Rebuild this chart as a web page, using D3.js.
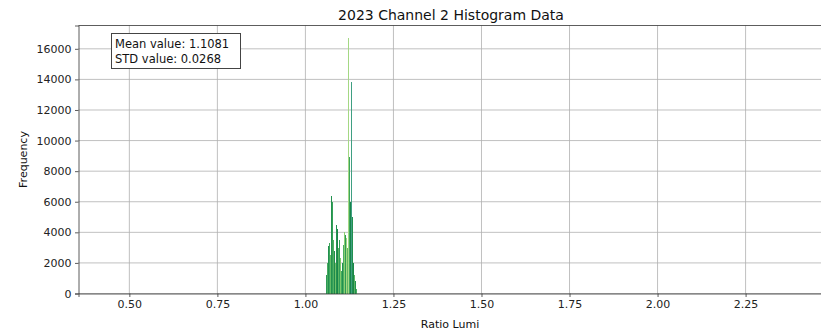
<!DOCTYPE html>
<html>
<head>
<meta charset="utf-8">
<script src="https://cdn.jsdelivr.net/npm/d3@7"></script>
<style>
  html, body { margin: 0; padding: 0; background: #fff; }
  svg { display: block; font-family: "DejaVu Sans", sans-serif; }
</style>
</head>
<body>
<svg id="chart" width="821" height="334"></svg>
<script>
// Histogram of luminance ratio, channel 2 (2023)
const binWidth = 0.00284;
const binStarts = [1.0593, 1.0621, 1.0650, 1.0678, 1.0707, 1.0735, 1.0763, 1.0792, 1.0820, 1.0849,
                   1.0877, 1.0905, 1.0934, 1.0962, 1.0991, 1.1019, 1.1047, 1.1076, 1.1104, 1.1133,
                   1.1161, 1.1189, 1.1218, 1.1246, 1.1275, 1.1303, 1.1331, 1.1360, 1.1388, 1.1417,
                   1.1445];
const counts    = [1200, 2000, 3100, 3300, 2500, 6350, 6000, 3500, 2800, 2000,
                   4500, 4200, 3000, 3500, 2300, 1500, 2000, 3200, 4000, 3800,
                   3600, 3000, 16690, 8900, 6000, 13800, 5000, 2000, 1200, 800,
                   300];
const barColors = ["#2e9a56", "#4aac60", "#22904f", "#3ea65b", "#64ba65", "#23924f", "#35a058", "#53b062", "#1f8a4c", "#70c068",
                   "#23924f", "#1b854a", "#5cb663", "#30a058", "#7ec86c", "#42aa5d", "#22904f", "#4cae60", "#8ccf72", "#2e9a56",
                   "#a3d67e", "#62b864", "#a4d884", "#3ea65b", "#17834a", "#3f9f82", "#22904f", "#1b854a", "#5cb663", "#23924f",
                   "#4aac60"];
const xTicks = [0.50, 0.75, 1.00, 1.25, 1.50, 1.75, 2.00, 2.25];
const yTicks = [0, 2000, 4000, 6000, 8000, 10000, 12000, 14000, 16000];
const meanValue = 1.1081;
const stdValue = 0.0268;

const svg = d3.select("#chart");
const margin = { left: 78.5, right: -1, top: 25.5, bottom: 40.5 };
const W = 821, H = 334;
const x = d3.scaleLinear().domain([0.3556, 2.467]).range([margin.left, W - margin.right]);
const y = d3.scaleLinear().domain([0, 17525]).range([H - margin.bottom, margin.top]);

// grid
const g = svg.append("g");
g.selectAll(".vgrid").data(xTicks).join("line")
  .attr("x1", d => x(d)).attr("x2", d => x(d))
  .attr("y1", y.range()[0]).attr("y2", y.range()[1])
  .attr("stroke", "#b0b0b0").attr("stroke-width", 0.8);
g.selectAll(".hgrid").data(yTicks).join("line")
  .attr("x1", x.range()[0]).attr("x2", x.range()[1])
  .attr("y1", d => y(d)).attr("y2", d => y(d))
  .attr("stroke", "#b0b0b0").attr("stroke-width", 0.8);

// bars (one pixel column per bin, drawn crisp so neighbouring bins touch)
const data = binStarts.map((s, i) => ({ s, c: counts[i], col: barColors[i] }));
svg.append("g").attr("shape-rendering", "crispEdges")
  .selectAll("rect").data(data).join("rect")
  .attr("x", d => x(d.s))
  .attr("width", d => x(d.s + binWidth) - x(d.s))
  .attr("y", d => y(d.c))
  .attr("height", d => y(0) - y(d.c))
  .attr("fill", d => d.col);

// axes
const xAxis = d3.axisBottom(x).tickValues(xTicks).tickFormat(d3.format(".2f")).tickSize(3.5).tickPadding(3.5);
const yAxis = d3.axisLeft(y).tickValues(yTicks).tickFormat(d3.format("d")).tickSize(3.5).tickPadding(3.5);
const gx = svg.append("g").attr("transform", `translate(0,${y(0)})`).call(xAxis);
const gy = svg.append("g").attr("transform", `translate(${x.range()[0]},0)`).call(yAxis);
[gx, gy].forEach(a => {
  a.selectAll("text").attr("font-family", "DejaVu Sans, sans-serif").attr("font-size", 11).attr("fill", "#222");
  a.selectAll("line").attr("stroke", "#333").attr("stroke-width", 0.8);
  a.select(".domain").attr("stroke", "#333").attr("stroke-width", 0.8);
});
// top spine
svg.append("line")
  .attr("x1", x.range()[0]).attr("x2", x.range()[1])
  .attr("y1", y.range()[1]).attr("y2", y.range()[1])
  .attr("stroke", "#333").attr("stroke-width", 0.8);

// titles
svg.append("text").attr("x", 451).attr("y", 20).attr("text-anchor", "middle")
  .attr("font-size", 14).attr("fill", "#111").text("2023 Channel 2 Histogram Data");
svg.append("text").attr("x", 450).attr("y", 328).attr("text-anchor", "middle")
  .attr("font-size", 11).attr("fill", "#111").text("Ratio Lumi");
svg.append("text").attr("transform", `translate(27,${(y.range()[0] + y.range()[1]) / 2}) rotate(-90)`)
  .attr("text-anchor", "middle").attr("font-size", 11).attr("fill", "#111").text("Frequency");

// stats box
const box = svg.append("g").attr("transform", "translate(111.5,33.5)");
box.append("rect").attr("width", 129).attr("height", 35)
  .attr("fill", "#fff").attr("stroke", "#444").attr("stroke-width", 1);
box.append("text").attr("x", 3.5).attr("y", 14).attr("font-size", 11.5).attr("fill", "#111")
  .text(`Mean value: ${meanValue.toFixed(4)}`);
box.append("text").attr("x", 3.5).attr("y", 29).attr("font-size", 11.5).attr("fill", "#111")
  .text(`STD value: ${stdValue.toFixed(4)}`);
</script>
</body>
</html>
